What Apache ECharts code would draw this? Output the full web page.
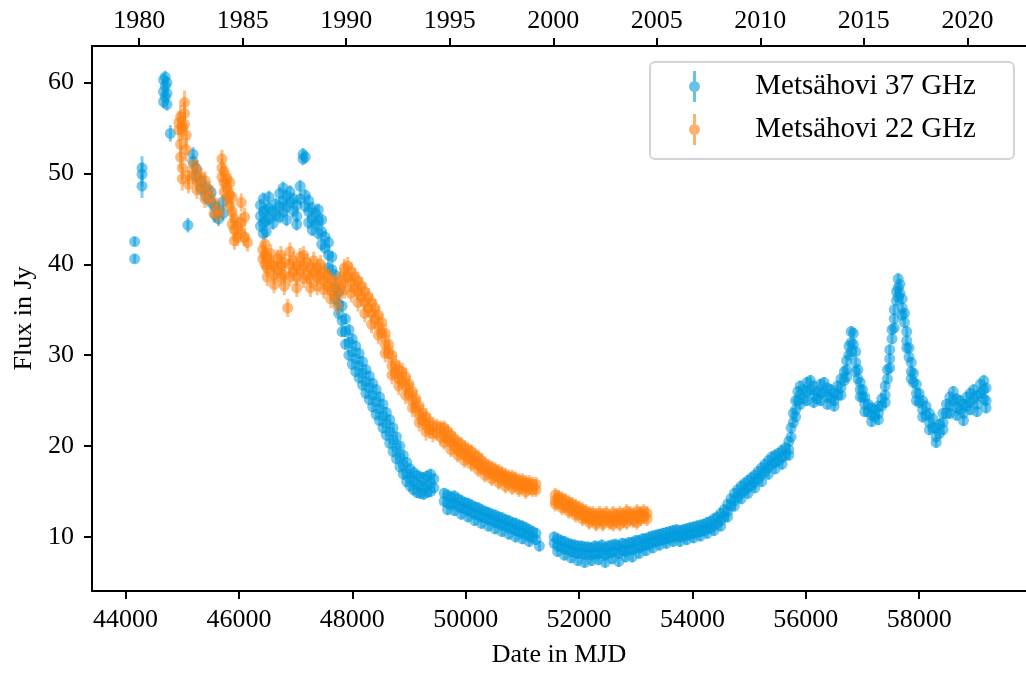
<!DOCTYPE html>
<html>
<head>
<meta charset="utf-8">
<script src="https://cdn.jsdelivr.net/npm/echarts@6/dist/echarts.min.js"></script>
<style>
  html, body { margin: 0; padding: 0; background: #fff; }
  #main { width: 1026px; height: 673px; }
</style>
</head>
<body>
<div id="main"></div>
<script>
// rows: [MJD, error, flux, flux, ...]  (several measurements close in time)
const obs37 = [
  [44160, 0.5, 42.5, 40.6],
  [44290, 1.3, 50.6, 49.9, 48.6],
  [44670, 0.7, 60.3, 59.0, 57.9],
  [44700, 0.7, 60.6, 59.6, 58.4],
  [44730, 0.7, 60.0, 58.8, 57.6],
  [44790, 0.9, 54.4],
  [45100, 0.8, 44.3],
  [45190, 0.8, 52.1, 51.3],
  [45240, 0.8, 50.6, 49.7],
  [45330, 0.8, 49.2, 48.3],
  [45420, 0.8, 48.4, 47.4],
  [45510, 0.8, 47.9, 46.8],
  [45580, 0.8, 46.3, 45.4],
  [45640, 0.8, 45.0, 46.0],
  [45720, 0.8, 46.9, 45.6],
  [46380, 0.7, 46.5, 45.3, 44.2],
  [46430, 0.7, 47.2, 45.8, 44.6, 43.4],
  [46480, 0.7, 46.0, 44.8, 43.6],
  [46530, 0.7, 47.4, 46.2, 45.0],
  [46600, 0.7, 45.8, 44.5],
  [46650, 0.7, 46.6, 45.4],
  [46720, 0.7, 47.8, 46.4, 45.2],
  [46780, 0.7, 48.4, 47.0, 45.8],
  [46840, 0.7, 47.5, 46.3, 44.9],
  [46900, 0.7, 48.0, 46.8],
  [46960, 0.7, 47.2, 45.9],
  [47020, 0.7, 46.5, 45.3, 44.4],
  [47080, 0.7, 48.6, 47.2],
  [47130, 0.7, 51.6, 52.1],
  [47170, 0.7, 51.8, 47.6, 46.4],
  [47230, 0.7, 47.0, 45.8, 44.6],
  [47290, 0.7, 46.2, 45.0, 43.8],
  [47350, 0.7, 45.6, 44.4],
  [47400, 0.7, 46.0, 44.8, 43.4],
  [47460, 0.7, 44.9, 43.6, 42.2],
  [47520, 0.7, 43.0, 41.8],
  [47580, 0.7, 42.4, 41.0, 39.6],
  [47640, 0.7, 40.8, 39.4],
  [47700, 0.7, 38.8, 37.4, 36.2],
  [47760, 0.7, 37.0, 35.6, 34.6],
  [47820, 0.6, 35.4, 33.8, 32.6],
  [47880, 0.6, 34.0, 32.6, 31.2],
  [47940, 0.6, 32.8, 31.4, 30.0],
  [48000, 0.6, 31.8, 30.4, 29.0],
  [48060, 0.6, 31.0, 29.6, 28.2],
  [48120, 0.6, 30.2, 28.8, 27.5],
  [48180, 0.6, 29.3, 28.0, 26.7],
  [48240, 0.6, 28.4, 27.1, 25.8],
  [48300, 0.6, 27.7, 26.4, 25.1],
  [48360, 0.6, 26.9, 25.6, 24.3],
  [48420, 0.6, 26.2, 24.9, 23.5],
  [48480, 0.6, 25.4, 24.1, 22.8],
  [48540, 0.6, 24.6, 23.3, 22.0],
  [48600, 0.6, 23.7, 22.5, 21.2],
  [48660, 0.6, 22.9, 21.6, 20.3],
  [48720, 0.6, 22.0, 20.7, 19.4],
  [48780, 0.6, 21.0, 19.8, 18.6],
  [48840, 0.6, 20.0, 18.8, 17.7],
  [48900, 0.6, 19.0, 17.9, 16.9],
  [48960, 0.6, 18.2, 17.0, 16.1],
  [49020, 0.6, 17.5, 16.5, 15.6],
  [49080, 0.6, 17.1, 16.1, 15.2],
  [49140, 0.6, 16.8, 15.8, 14.9],
  [49200, 0.6, 16.6, 15.6, 14.8],
  [49260, 0.6, 16.5, 15.5, 14.7],
  [49320, 0.6, 16.7, 15.7, 14.9],
  [49380, 0.6, 16.9, 15.9, 15.0],
  [49440, 0.6, 16.4, 15.4],
  [49620, 0.6, 14.8, 13.9],
  [49680, 0.6, 14.6, 13.7, 13.0],
  [49740, 0.6, 14.4, 13.6],
  [49800, 0.6, 14.5, 13.7, 12.9],
  [49860, 0.6, 14.2, 13.4],
  [49920, 0.6, 14.0, 13.2, 12.5],
  [49980, 0.6, 13.8, 13.1],
  [50040, 0.6, 13.7, 12.9, 12.2],
  [50100, 0.6, 13.5, 12.7],
  [50160, 0.6, 13.3, 12.5, 11.8],
  [50220, 0.6, 13.2, 12.4],
  [50280, 0.6, 13.0, 12.2, 11.5],
  [50340, 0.6, 12.8, 12.1],
  [50400, 0.6, 12.7, 11.9, 11.2],
  [50460, 0.6, 12.5, 11.8],
  [50520, 0.6, 12.4, 11.6, 10.9],
  [50580, 0.6, 12.2, 11.5],
  [50640, 0.6, 12.1, 11.3, 10.6],
  [50700, 0.6, 11.9, 11.2],
  [50760, 0.6, 11.8, 11.0, 10.3],
  [50820, 0.6, 11.6, 10.9],
  [50880, 0.6, 11.5, 10.7, 10.0],
  [50940, 0.6, 11.3, 10.6],
  [51000, 0.6, 11.2, 10.4, 9.8],
  [51060, 0.6, 11.0, 10.3],
  [51120, 0.6, 10.8, 10.1, 9.5],
  [51180, 0.6, 10.6, 9.9],
  [51240, 0.6, 10.4, 9.7],
  [51300, 0.6, 9.0],
  [51560, 0.6, 10.0, 9.3],
  [51620, 0.6, 9.8, 9.0, 8.4],
  [51680, 0.6, 9.6, 8.9],
  [51740, 0.6, 9.5, 8.7, 8.0],
  [51800, 0.6, 9.3, 8.6],
  [51860, 0.6, 9.2, 8.4, 7.7],
  [51920, 0.6, 9.1, 8.3],
  [51980, 0.6, 9.0, 8.2, 7.4],
  [52040, 0.6, 9.0, 8.2],
  [52100, 0.6, 8.9, 8.1, 7.2],
  [52160, 0.6, 8.9, 8.1],
  [52220, 0.6, 8.8, 8.0, 7.4],
  [52280, 0.6, 9.0, 8.2],
  [52340, 0.6, 8.9, 8.1, 7.5],
  [52400, 0.6, 9.1, 8.3],
  [52460, 0.6, 8.8, 8.0, 7.2],
  [52520, 0.6, 9.0, 8.2],
  [52580, 0.6, 9.1, 8.3, 7.6],
  [52640, 0.6, 9.2, 8.4],
  [52700, 0.6, 9.0, 8.2, 7.3],
  [52760, 0.6, 9.3, 8.5],
  [52820, 0.6, 9.2, 8.4, 7.8],
  [52880, 0.6, 9.4, 8.6],
  [52940, 0.6, 9.4, 8.6, 7.8],
  [53000, 0.6, 9.6, 8.8],
  [53060, 0.6, 9.6, 8.8, 8.2],
  [53120, 0.6, 9.8, 9.0],
  [53180, 0.6, 9.8, 9.1, 8.5],
  [53240, 0.6, 10.0, 9.2],
  [53300, 0.6, 10.1, 9.4, 8.8],
  [53360, 0.6, 10.2, 9.5],
  [53420, 0.6, 10.3, 9.6, 9.1],
  [53480, 0.6, 10.4, 9.7],
  [53540, 0.6, 10.5, 9.8, 9.3],
  [53600, 0.6, 10.6, 9.9],
  [53660, 0.6, 10.7, 10.0, 9.5],
  [53720, 0.6, 10.8, 10.1],
  [53780, 0.6, 10.7, 10.0, 9.5],
  [53840, 0.6, 10.8, 10.1],
  [53900, 0.6, 10.9, 10.2, 9.7],
  [53960, 0.6, 11.0, 10.3],
  [54020, 0.6, 11.1, 10.4, 9.9],
  [54080, 0.6, 11.2, 10.5],
  [54140, 0.6, 11.3, 10.6, 10.1],
  [54200, 0.6, 11.4, 10.7],
  [54260, 0.6, 11.6, 10.9, 10.4],
  [54320, 0.6, 11.7, 11.0],
  [54380, 0.6, 12.0, 11.2, 10.7],
  [54440, 0.6, 12.2, 11.5],
  [54500, 0.6, 12.6, 11.8, 11.2],
  [54560, 0.6, 13.0, 12.2],
  [54620, 0.6, 13.6, 12.8, 12.2],
  [54680, 0.6, 14.2, 13.4],
  [54740, 0.6, 14.8, 14.0, 13.4],
  [54800, 0.6, 15.2, 14.4],
  [54860, 0.6, 15.6, 14.8, 14.2],
  [54920, 0.6, 15.9, 15.1],
  [54980, 0.6, 16.2, 15.4, 14.8],
  [55040, 0.6, 16.5, 15.7],
  [55100, 0.6, 16.8, 16.0, 15.4],
  [55160, 0.6, 17.2, 16.4],
  [55220, 0.6, 17.6, 16.8, 16.1],
  [55280, 0.6, 18.0, 17.2],
  [55340, 0.6, 18.4, 17.6, 16.9],
  [55400, 0.6, 18.8, 18.0],
  [55460, 0.6, 19.0, 18.2, 17.5],
  [55520, 0.6, 19.2, 18.4],
  [55580, 0.6, 19.5, 18.7, 18.0],
  [55640, 0.6, 19.8, 19.0],
  [55700, 0.6, 20.5, 19.6, 19.0],
  [55740, 0.6, 22.0, 21.0],
  [55780, 0.6, 23.6, 22.6],
  [55820, 0.6, 25.0, 24.0, 23.2],
  [55860, 0.6, 26.0, 25.0],
  [55900, 0.6, 26.6, 25.6, 24.6],
  [55960, 0.6, 26.2, 25.2],
  [56020, 0.6, 27.0, 26.0, 25.0],
  [56080, 0.6, 27.2, 26.2],
  [56140, 0.6, 26.6, 25.6, 24.8],
  [56200, 0.6, 26.0, 25.2],
  [56260, 0.6, 26.8, 25.8, 25.0],
  [56320, 0.6, 27.0, 26.0],
  [56380, 0.6, 26.4, 25.4, 24.6],
  [56440, 0.6, 26.2, 25.3],
  [56500, 0.6, 25.8, 25.0, 24.4],
  [56560, 0.6, 26.6, 25.6],
  [56620, 0.6, 27.4, 26.4, 25.6],
  [56680, 0.6, 28.2, 27.2],
  [56720, 0.6, 29.4, 28.4, 27.6],
  [56760, 0.6, 31.0, 30.0],
  [56800, 0.6, 32.6, 31.4, 30.4],
  [56840, 0.6, 32.4, 31.2],
  [56880, 0.6, 30.4, 29.2, 28.2],
  [56920, 0.6, 28.4, 27.4],
  [56960, 0.6, 27.0, 26.2, 25.4],
  [57000, 0.6, 26.2, 25.4],
  [57040, 0.6, 25.4, 24.6, 23.8],
  [57100, 0.6, 24.6, 23.8],
  [57160, 0.6, 24.2, 23.4, 22.7],
  [57220, 0.6, 24.0, 23.2],
  [57280, 0.6, 24.4, 23.6, 22.9],
  [57340, 0.6, 25.2, 24.4],
  [57400, 0.6, 26.6, 25.6, 24.8],
  [57440, 0.6, 28.4, 27.4],
  [57480, 0.6, 30.6, 29.6, 28.6],
  [57520, 0.6, 32.8, 31.8],
  [57560, 0.6, 35.0, 34.0, 33.0],
  [57600, 0.6, 37.0, 36.0],
  [57630, 0.6, 38.4, 37.4, 36.4],
  [57660, 0.6, 37.8, 36.8],
  [57700, 0.6, 36.2, 35.2, 34.4],
  [57740, 0.6, 34.6, 33.6],
  [57780, 0.6, 32.6, 31.6, 30.8],
  [57820, 0.6, 30.8, 29.8],
  [57860, 0.6, 29.2, 28.2, 27.4],
  [57900, 0.6, 28.0, 27.0],
  [57950, 0.6, 26.8, 25.8, 25.0],
  [58000, 0.6, 25.8, 24.8],
  [58060, 0.6, 25.0, 24.0, 23.2],
  [58120, 0.6, 24.4, 23.4],
  [58180, 0.6, 23.6, 22.6, 21.8],
  [58240, 0.6, 23.0, 22.0],
  [58300, 0.6, 22.0, 21.0, 20.4],
  [58360, 0.6, 22.4, 21.4],
  [58420, 0.6, 23.6, 22.6, 21.8],
  [58480, 0.6, 24.6, 23.6],
  [58540, 0.6, 25.4, 24.4, 23.6],
  [58600, 0.6, 26.0, 25.0],
  [58660, 0.6, 25.2, 24.2, 23.4],
  [58720, 0.6, 25.0, 24.0],
  [58780, 0.6, 24.6, 23.6, 22.8],
  [58840, 0.6, 25.4, 24.4],
  [58900, 0.6, 25.8, 24.8, 24.0],
  [58960, 0.6, 26.2, 25.2],
  [59020, 0.6, 25.6, 24.6, 23.8],
  [59080, 0.6, 26.8, 25.8],
  [59140, 0.6, 27.2, 26.2, 25.2],
  [59180, 0.6, 26.4, 25.0, 24.2]
];

const obs22 = [
  [44940, 1.3, 55.6, 54.8],
  [44970, 1.3, 56.2, 53.2, 51.8],
  [45000, 1.3, 55.0, 50.6, 49.4],
  [45040, 1.3, 57.8, 56.6, 55.4],
  [45070, 1.3, 54.2, 52.6],
  [45110, 1.0, 49.8, 48.8],
  [45200, 1.0, 51.0, 49.8],
  [45260, 1.0, 50.4, 49.2, 48.2],
  [45330, 1.0, 49.6, 48.6],
  [45400, 1.0, 49.2, 48.0, 47.2],
  [45480, 1.0, 48.2, 47.4],
  [45560, 1.0, 46.8, 45.6],
  [45640, 1.0, 46.0, 45.4],
  [45700, 1.0, 51.6, 50.6, 49.6],
  [45740, 1.0, 50.2, 49.0, 48.0],
  [45790, 1.0, 49.4, 48.4, 47.2],
  [45840, 1.0, 49.0, 47.6, 46.4],
  [45880, 1.0, 47.4, 45.8, 44.4],
  [45920, 1.0, 45.0, 43.8, 42.6],
  [45970, 1.0, 44.2, 43.0],
  [46040, 1.0, 46.8, 44.6, 43.4],
  [46100, 1.0, 45.2, 43.0],
  [46150, 1.0, 42.4],
  [46420, 1.0, 41.6, 40.6],
  [46460, 1.0, 42.2, 41.0, 40.0],
  [46500, 1.0, 40.8, 39.6, 38.6],
  [46560, 1.0, 41.2, 40.0],
  [46620, 1.0, 39.8, 38.8, 37.8],
  [46680, 1.0, 40.6, 39.4],
  [46740, 1.0, 41.0, 39.8, 38.6],
  [46800, 1.0, 40.2, 38.8, 37.6],
  [46860, 1.0, 35.2],
  [46900, 1.0, 41.4, 40.0, 38.6],
  [46960, 1.0, 40.4, 39.2],
  [47020, 1.0, 39.8, 38.6, 37.4],
  [47080, 1.0, 40.8, 39.4],
  [47140, 1.0, 41.0, 39.8, 38.4],
  [47200, 1.0, 40.2, 38.8],
  [47260, 1.0, 39.6, 38.4, 37.4],
  [47320, 1.0, 40.4, 39.2],
  [47380, 1.0, 39.6, 38.6, 37.6],
  [47440, 1.0, 40.0, 38.8],
  [47500, 1.0, 39.2, 38.2, 37.2],
  [47560, 1.0, 38.8, 37.6],
  [47620, 1.0, 38.4, 37.2, 36.2],
  [47680, 1.0, 38.0, 36.8],
  [47740, 1.0, 37.6, 36.4, 35.4],
  [47800, 1.0, 38.6, 37.4],
  [47860, 1.0, 39.6, 38.4, 37.2],
  [47920, 1.0, 39.8, 38.6],
  [47980, 1.0, 39.2, 38.0, 36.8],
  [48040, 1.0, 38.6, 37.4],
  [48100, 1.0, 38.2, 37.0, 35.8],
  [48160, 1.0, 37.6, 36.4],
  [48220, 1.0, 37.0, 35.8, 34.6],
  [48280, 1.0, 36.4, 35.2],
  [48340, 1.0, 35.8, 34.6, 33.4],
  [48400, 1.0, 35.2, 34.0],
  [48460, 1.0, 34.4, 33.2, 32.2],
  [48520, 1.0, 33.6, 32.4],
  [48580, 1.0, 32.4, 31.2, 30.2],
  [48640, 1.0, 31.2, 30.2],
  [48700, 1.0, 30.0, 28.8, 27.8],
  [48760, 1.0, 29.0, 28.0],
  [48820, 1.0, 28.4, 27.4, 26.6],
  [48880, 1.0, 28.2, 27.2],
  [48940, 1.0, 27.6, 26.6, 25.6],
  [49000, 1.0, 26.8, 25.8],
  [49060, 1.0, 26.0, 25.0, 24.2],
  [49120, 1.0, 25.2, 24.2],
  [49180, 1.0, 24.4, 23.4, 22.6],
  [49240, 1.0, 23.6, 22.8],
  [49300, 1.0, 23.2, 22.4, 21.6],
  [49360, 1.0, 22.6, 21.8],
  [49420, 1.0, 22.2, 21.4],
  [49490, 0.8, 22.2, 21.4],
  [49560, 0.8, 22.0, 21.0],
  [49620, 0.8, 22.0, 21.2, 20.4],
  [49680, 0.8, 21.6, 20.8],
  [49740, 0.8, 21.2, 20.4, 19.6],
  [49800, 0.8, 20.8, 20.0],
  [49860, 0.8, 20.4, 19.6, 19.0],
  [49920, 0.8, 20.2, 19.4],
  [49980, 0.8, 19.8, 19.0, 18.4],
  [50040, 0.8, 19.6, 18.8],
  [50100, 0.8, 19.4, 18.6, 18.0],
  [50160, 0.8, 19.0, 18.2],
  [50220, 0.8, 18.8, 18.0, 17.4],
  [50280, 0.8, 18.4, 17.6],
  [50340, 0.8, 18.0, 17.4, 16.8],
  [50400, 0.8, 17.8, 17.2],
  [50460, 0.8, 17.6, 17.0, 16.4],
  [50520, 0.8, 17.4, 16.8],
  [50580, 0.8, 17.2, 16.6, 16.0],
  [50640, 0.8, 17.0, 16.4],
  [50700, 0.8, 16.8, 16.2, 15.6],
  [50760, 0.8, 16.6, 16.0],
  [50820, 0.8, 16.6, 16.0, 15.4],
  [50880, 0.8, 16.4, 15.8],
  [50940, 0.8, 16.2, 15.6, 15.2],
  [51000, 0.8, 16.2, 15.6],
  [51060, 0.8, 16.0, 15.5, 15.0],
  [51120, 0.8, 16.0, 15.4],
  [51180, 0.8, 15.8, 15.2],
  [51240, 0.8, 15.8, 15.2],
  [51580, 0.8, 14.6, 14.0, 13.6],
  [51640, 0.8, 14.4, 13.8],
  [51700, 0.8, 14.2, 13.6, 13.2],
  [51760, 0.8, 14.0, 13.4],
  [51820, 0.8, 13.8, 13.2, 12.8],
  [51880, 0.8, 13.6, 13.0],
  [51940, 0.8, 13.4, 12.8, 12.4],
  [52000, 0.8, 13.2, 12.6],
  [52060, 0.8, 13.0, 12.4, 12.0],
  [52120, 0.8, 12.8, 12.2],
  [52180, 0.8, 12.6, 12.0, 11.6],
  [52240, 0.8, 12.6, 12.0],
  [52300, 0.8, 12.4, 11.8, 11.4],
  [52360, 0.8, 12.6, 12.0],
  [52420, 0.8, 12.4, 11.8, 11.4],
  [52480, 0.8, 12.6, 12.0],
  [52540, 0.8, 12.2, 11.6],
  [52600, 0.8, 12.6, 12.0, 11.4],
  [52660, 0.8, 12.4, 11.8],
  [52720, 0.8, 12.6, 12.0, 11.4],
  [52780, 0.8, 12.4, 11.8],
  [52840, 0.8, 12.8, 12.2, 11.6],
  [52900, 0.8, 12.6, 12.0],
  [52960, 0.8, 12.4, 11.8],
  [53020, 0.8, 12.8, 12.2, 11.6],
  [53080, 0.8, 12.6, 12.0],
  [53140, 0.8, 12.8, 12.2],
  [53200, 0.8, 12.6, 12.0]
];

const mjdTicks = [44000, 46000, 48000, 50000, 52000, 54000, 56000, 58000];
const fluxTicks = [10, 20, 30, 40, 50, 60];
const yearTicks = [1980, 1985, 1990, 1995, 2000, 2005, 2010, 2015, 2020];

const names = ['Metsähovi 37 GHz', 'Metsähovi 22 GHz'];
const colors = ['#009ade', '#ff7f0e'];

const MJD0_YEAR = 1858.877; // decimal year of MJD 0
const yearToMjd = y => (y - MJD0_YEAR) * 365.25;
const yearMjd = yearTicks.map(yearToMjd);

function flatten(rows) {
  const out = [];
  rows.forEach(r => {
    for (let i = 2; i < r.length; i++) out.push([r[0], r[i], r[1]]);
  });
  return out;
}
const pts37 = flatten(obs37);
const pts22 = flatten(obs22);

const font = 'Liberation Serif';
const xMin = 43408, xMax = 59884;

function errSeries(name, pts, color) {
  return {
    name: name,
    type: 'custom',
    silent: true,
    data: pts,
    renderItem: function (params, api) {
      const x = api.value(0), y = api.value(1), e = api.value(2);
      const p1 = api.coord([x, y - e]);
      const p2 = api.coord([x, y + e]);
      return {
        type: 'line',
        shape: { x1: p1[0], y1: p1[1], x2: p2[0], y2: p2[1] },
        style: { stroke: color, lineWidth: 3, opacity: 0.5 }
      };
    }
  };
}

function dotSeries(name, pts, color) {
  return {
    name: name,
    type: 'scatter',
    silent: true,
    symbol: 'circle',
    symbolSize: 11,
    data: pts.map(p => [p[0], p[1]]),
    itemStyle: { color: color, opacity: 0.55 }
  };
}

// error bar + dot
const iconPath = 'path://M4,0L7,0L7,31L4,31Z M5.5,10A5.5,5.5,0,1,1,5.5,21A5.5,5.5,0,1,1,5.5,10Z';

const axisLine = { show: true, lineStyle: { color: '#000', width: 2 } };
const tickStyle = { show: true, inside: false, length: 8, lineStyle: { color: '#000', width: 2 } };

const chart = echarts.init(document.getElementById('main'));
chart.setOption({
  animation: false,
  backgroundColor: '#fff',
  grid: { left: 92, right: -4, top: 46, bottom: 80, containLabel: false },
  legend: {
    orient: 'vertical',
    left: 650,
    top: 62,
    padding: [9, 38, 14, 39],
    itemWidth: 68,
    itemHeight: 31,
    itemGap: 12,
    backgroundColor: '#fff',
    borderColor: '#d4d4d4',
    borderWidth: 2,
    borderRadius: 5,
    selectedMode: false,
    data: names.map((n, i) => ({
      name: n,
      icon: iconPath,
      itemStyle: { color: colors[i], opacity: 0.6 }
    })),
    formatter: n => '\u2002 ' + n,
    textStyle: { fontFamily: font, fontSize: 29, color: '#000', lineHeight: 31 }
  },
  xAxis: [
    {
      type: 'value',
      position: 'bottom',
      min: xMin,
      max: xMax,
      name: 'Date in MJD',
      nameLocation: 'middle',
      nameGap: 51,
      nameTextStyle: { fontFamily: font, fontSize: 26, color: '#000' },
      axisLine: axisLine,
      axisTick: Object.assign({ customValues: mjdTicks }, tickStyle),
      axisLabel: {
        customValues: mjdTicks,
        margin: 16,
        fontFamily: font,
        fontSize: 26,
        color: '#000',
        formatter: v => String(v)
      },
      splitLine: { show: false }
    },
    {
      type: 'value',
      position: 'top',
      min: xMin,
      max: xMax,
      axisLine: axisLine,
      axisTick: Object.assign({ customValues: yearMjd }, tickStyle),
      axisLabel: {
        customValues: yearMjd,
        margin: 12,
        fontFamily: font,
        fontSize: 26,
        color: '#000',
        formatter: v => String(Math.round(MJD0_YEAR + v / 365.25))
      },
      splitLine: { show: false }
    }
  ],
  yAxis: {
    type: 'value',
    min: 4.05,
    max: 64.02,
    name: 'Flux in Jy',
    nameLocation: 'middle',
    nameGap: 54,
    nameTextStyle: { fontFamily: font, fontSize: 26, color: '#000' },
    axisLine: axisLine,
    axisTick: Object.assign({ customValues: fluxTicks }, tickStyle),
    axisLabel: { customValues: fluxTicks, margin: 18, fontFamily: font, fontSize: 26, color: '#000' },
    splitLine: { show: false }
  },
  series: [
    errSeries(names[0], pts37, colors[0]),
    dotSeries(names[0], pts37, colors[0]),
    errSeries(names[1], pts22, colors[1]),
    dotSeries(names[1], pts22, colors[1])
  ]
});
</script>
</body>
</html>
